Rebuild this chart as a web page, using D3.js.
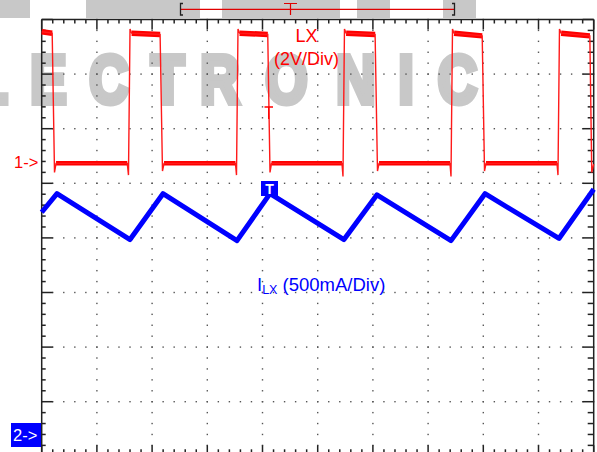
<!DOCTYPE html>
<html><head><meta charset="utf-8">
<script src="https://cdn.jsdelivr.net/npm/d3@7"></script>
<style>body{margin:0;background:#fff}svg{display:block}</style>
</head><body>
<svg id="c" width="597" height="452"></svg>
<script>
// ---- data (x in screen divisions, 10 div across) ----
const lxTime = [0, 0.19, 0.232, 0.26, 1.55, 1.572, 1.60, 1.63, 2.145, 2.188, 2.216, 3.51, 3.529, 3.556, 3.585,
  4.095, 4.136, 4.163, 5.44, 5.458, 5.485, 5.515, 6.04, 6.083, 6.111, 7.397, 7.415, 7.442, 7.47,
  7.98, 8.022, 8.049, 9.335, 9.353, 9.38, 9.41, 9.93, 9.965, 10];
const lxVolt = [4.75, 4.7, -0.4, -0.07, -0.07, -0.5, 4.85, 4.7, 4.65, -0.35, -0.07, -0.07, -0.5, 4.85, 4.7,
  4.65, -0.4, -0.07, -0.07, -0.55, 4.85, 4.7, 4.65, -0.35, -0.07, -0.07, -0.55, 4.85, 4.7,
  4.6, -0.35, -0.07, -0.07, -0.5, 4.85, 4.7, 4.6, -0.4, -0.1];
const ilxTime = [0, 0.277, 1.600, 2.197, 3.538, 4.136, 5.476, 6.074, 7.415, 8.031, 9.371, 10];
const ilxAmp  = [2.04, 2.21, 1.79, 2.21, 1.78, 2.21, 1.79, 2.20, 1.78, 2.21, 1.80, 2.25];
const watermarkLetters = ["L", "E", "C", "T", "R", "O", "N", "I", "C"];
const labelLX = "LX", labelLXScale = "(2V/Div)", labelILX = "I", labelILXSub = "LX", labelILXScale = " (500mA/Div)";
const xDivCount = 10, yDivCount = 8, minorPerDiv = 5;

// ---- layout ----
const svg = d3.select("#c");
const L = 41.7, R = 593.7, T = 19.5, divH = 54.6, B = T + yDivCount * divH;
const x = d3.scaleLinear().domain([0, xDivCount]).range([L, R]);
const yDiv = d3.scaleLinear().domain([0, yDivCount]).range([B, T]);
const yRed = d3.scaleLinear().domain([0, 2]).range([yDiv(5.4), yDiv(6.4)]);     // 2 V/div, ref marker 1
const yBlue = d3.scaleLinear().domain([0, 0.5]).range([yDiv(0.39), yDiv(1.39)]); // 500 mA/div, ref marker 2
const font = "'Liberation Sans', Arial, sans-serif";

// ---- watermark ----
const wm = svg.append("g").attr("fill", "#c8c8c8");
[[0, 30], [86, 200], [222, 340], [357, 390], [443, 476]].forEach(b =>
  wm.append("rect").attr("x", b[0]).attr("y", 0).attr("width", b[1] - b[0]).attr("height", 18));
const wmCenters = [-9, 48.5, 109, 167.5, 220, 286.5, 356, 406, 457.5];
watermarkLetters.forEach((ch, i) => {
  wm.append("text").attr("transform", `translate(${wmCenters[i]},102.5) scale(0.8,1)`)
    .attr("text-anchor", "middle").attr("font-family", font).attr("font-weight", "bold")
    .attr("stroke", "#c8c8c8").attr("stroke-width", 6).attr("stroke-linejoin", "miter")
    .attr("font-size", 68).text(ch);
});

// ---- grid dots ----
const grid = svg.append("g").attr("fill", "#555");
for (let k = 1; k < xDivCount; k++)
  for (let j = 0; j <= yDivCount * minorPerDiv; j++)
    grid.append("rect").attr("x", x(k) - 0.7).attr("y", yDiv(j / minorPerDiv) - 0.7).attr("width", 1.4).attr("height", 1.4);
for (let k = 1; k < yDivCount; k++)
  for (let j = 0; j <= xDivCount * minorPerDiv; j++)
    grid.append("rect").attr("x", x(j / minorPerDiv) - 0.7).attr("y", yDiv(k) - 0.7).attr("width", 1.4).attr("height", 1.4);

// ---- borders + ticks ----
const bd = svg.append("g").attr("stroke", "#222").attr("stroke-width", 1.5);
bd.append("line").attr("x1", L).attr("x2", R).attr("y1", T).attr("y2", T);
bd.append("line").attr("x1", L).attr("x2", R).attr("y1", B).attr("y2", B);
bd.append("line").attr("x1", L).attr("x2", L).attr("y1", T).attr("y2", B);
bd.append("line").attr("x1", R).attr("x2", R).attr("y1", T).attr("y2", B);
for (let j = 0; j <= xDivCount * minorPerDiv; j++) {
  const major = j % minorPerDiv === 0, xx = x(j / minorPerDiv);
  bd.append("line").attr("x1", xx).attr("x2", xx).attr("y1", T).attr("y2", T + (major ? 10 : 4));
  bd.append("line").attr("x1", xx).attr("x2", xx).attr("y1", B).attr("y2", B - (major ? 11 : 7));
}
for (let j = 0; j <= yDivCount * minorPerDiv; j++) {
  const major = j % minorPerDiv === 0, yy = yDiv(j / minorPerDiv);
  bd.append("line").attr("x1", L).attr("x2", L + (major ? 11 : 4)).attr("y1", yy).attr("y2", yy);
  bd.append("line").attr("x1", R).attr("x2", R - (major ? 11 : 6)).attr("y1", yy).attr("y2", yy);
}

// ---- traces ----
const lxPts = lxTime.map((t, i) => [t, lxVolt[i]]);
const redLine = d3.line().x(d => x(d[0])).y(d => yRed(d[1]));
const tr = svg.append("g");
// plateau noise bands (consecutive samples at the same level)
for (let i = 0; i < lxPts.length - 1; i++) {
  const a = lxPts[i], b = lxPts[i + 1];
  if (b[0] - a[0] > 0.1 && Math.abs(b[1] - a[1]) < 0.3)
    tr.append("path").attr("d", redLine([a, b])).attr("stroke", "#ff0000").attr("fill", "none")
      .attr("stroke-width", a[1] > 2 ? 5.5 : 4.5);
}
tr.append("path").attr("d", redLine(lxPts)).attr("fill", "none").attr("stroke", "#ff1a1a").attr("stroke-width", 1.4);

const ilxPts = ilxTime.map((t, i) => [t, ilxAmp[i]]);
tr.append("path").attr("d", d3.line().x(d => x(d[0])).y(d => yBlue(d[1]))(ilxPts))
  .attr("fill", "none").attr("stroke", "#0000ff").attr("stroke-width", 5).attr("stroke-linejoin", "round");

// ---- top time-base bracket ----
const tb = svg.append("g");
tb.append("line").attr("x1", 180).attr("x2", 455).attr("y1", 9.3).attr("y2", 9.3).attr("stroke", "#e00000").attr("stroke-width", 1.2);
tb.append("path").attr("d", "M183,3.5H180.5V15H183").attr("fill", "none").attr("stroke", "#222").attr("stroke-width", 1.3);
tb.append("path").attr("d", "M452,3.5H454.5V15H452").attr("fill", "none").attr("stroke", "#222").attr("stroke-width", 1.3);
tb.append("path").attr("d", "M284,3.5H297M290.5,3.5V15").attr("fill", "none").attr("stroke", "#e00000").attr("stroke-width", 1.2);

// trigger level marker (red T)
svg.append("path").attr("d", "M264.5,107H273M268.7,107V119").attr("stroke", "#ff0000").attr("stroke-width", 1.3).attr("fill", "none");

// blue trigger-position T box
svg.append("rect").attr("x", 261).attr("y", 181).attr("width", 17).attr("height", 15).attr("fill", "#0000ff");
svg.append("text").attr("x", 269.5).attr("y", 194).attr("text-anchor", "middle").attr("fill", "#fff")
  .attr("font-family", font).attr("font-weight", "bold").attr("font-size", 14).text("T");

// ---- labels ----
svg.append("text").attr("x", 306.5).attr("y", 42).attr("text-anchor", "middle").attr("fill", "#ff0000")
  .attr("font-family", font).attr("font-size", 18).text(labelLX);
svg.append("text").attr("x", 306.5).attr("y", 64.5).attr("text-anchor", "middle").attr("fill", "#ff0000")
  .attr("font-family", font).attr("font-size", 18).text(labelLXScale);
const il = svg.append("text").attr("x", 257).attr("y", 291).attr("fill", "#0000ff")
  .attr("font-family", font).attr("font-size", 18.5);
il.append("tspan").text(labelILX);
il.append("tspan").attr("font-size", 12.5).attr("dy", 3).text(labelILXSub);
il.append("tspan").attr("dy", -3).text(labelILXScale);

svg.append("text").attr("x", 14).attr("y", 167.5).attr("fill", "#ff0000").attr("font-family", font).attr("font-size", 16.5).text("1->");
svg.append("rect").attr("x", 11).attr("y", 423).attr("width", 30).attr("height", 24).attr("fill", "#0000ff");
svg.append("text").attr("x", 13).attr("y", 441).attr("fill", "#fff").attr("font-family", font).attr("font-size", 16.5).text("2->");
</script>
</body></html>
